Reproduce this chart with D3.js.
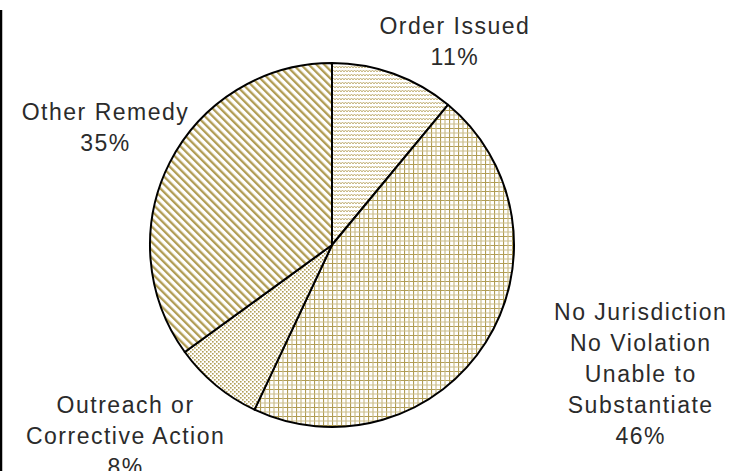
<!DOCTYPE html>
<html>
<head>
<meta charset="utf-8">
<script src="https://cdn.jsdelivr.net/npm/d3@7"></script>
<style>
  html, body { margin: 0; padding: 0; background: #fff; }
  svg { display: block; }
  .label { font-family: 'Liberation Sans', Arial, sans-serif; font-size: 23px; fill: #2b2b2b; letter-spacing: 1.5px; }
</style>
</head>
<body>
<div id="chart"></div>
<script>
const categories = ['Order Issued', 'No Jurisdiction\nNo Violation\nUnable to\nSubstantiate', 'Outreach or\nCorrective Action', 'Other Remedy'];
const values = [11, 46, 8, 35];
const percentLabels = ['11%', '46%', '8%', '35%'];
const patternIds = ['zigzag', 'grid', 'dots', 'stripes'];

const WIDTH = 729;
const HEIGHT = 471;
const CX = 332;
const CY = 245;
const RADIUS = 182;
const INK = '#b19d55';
const LINE = 31;

// offset from the outer-arc anchor to the centre of each label block
const labelNudge = [
  [52, -7],
  [132, 17],
  [-73, 30],
  [-40, -23],
];

const svg = d3.select('#chart').append('svg').attr('width', WIDTH).attr('height', HEIGHT);
const defs = svg.append('defs');

const zig = defs.append('pattern').attr('id', 'zigzag').attr('patternUnits', 'userSpaceOnUse').attr('width', 6).attr('height', 4);
zig.append('rect').attr('width', 6).attr('height', 4).attr('fill', '#fff');
zig.append('path').attr('d', 'M0,3 L1.5,1 L3,3 L4.5,1 L6,3').attr('fill', 'none').attr('stroke', '#c4b37a').attr('stroke-width', 1);

const grid = defs.append('pattern').attr('id', 'grid').attr('patternUnits', 'userSpaceOnUse').attr('width', 9).attr('height', 9);
grid.append('rect').attr('width', 9).attr('height', 9).attr('fill', '#fff');
grid.append('path').attr('d', 'M0.5,0 V9 M0,0.5 H9').attr('stroke', INK).attr('stroke-width', 1.2);
grid.append('path').attr('d', 'M5,0 V9 M0,5 H9').attr('stroke', '#cbbd8a').attr('stroke-width', 1.2);

const dots = defs.append('pattern').attr('id', 'dots').attr('patternUnits', 'userSpaceOnUse').attr('width', 4).attr('height', 4);
dots.append('rect').attr('width', 4).attr('height', 4).attr('fill', '#fff');
dots.append('rect').attr('x', 0).attr('y', 0).attr('width', 1.6).attr('height', 1.6).attr('fill', INK);
dots.append('rect').attr('x', 2).attr('y', 2).attr('width', 1.6).attr('height', 1.6).attr('fill', INK);

const stripes = defs.append('pattern').attr('id', 'stripes').attr('patternUnits', 'userSpaceOnUse')
  .attr('width', 5.5).attr('height', 5.5).attr('patternTransform', 'rotate(-45)');
stripes.append('rect').attr('width', 5.5).attr('height', 5.5).attr('fill', '#fff');
stripes.append('rect').attr('x', 0).attr('y', 0).attr('width', 2.3).attr('height', 5.5).attr('fill', INK);

// left frame line
svg.append('line').attr('x1', 1).attr('x2', 1).attr('y1', 10).attr('y2', HEIGHT).attr('stroke', '#000').attr('stroke-width', 2.5);

const pie = d3.pie().sort(null).value((d) => d);
const arcs = pie(values);
const arc = d3.arc().innerRadius(0).outerRadius(RADIUS);
const outerArc = d3.arc().innerRadius(RADIUS * 1.15).outerRadius(RADIUS * 1.15);

const g = svg.append('g').attr('transform', `translate(${CX},${CY})`);

g.selectAll('path.slice')
  .data(arcs)
  .join('path')
  .attr('class', 'slice')
  .attr('d', arc)
  .attr('fill', (d, i) => `url(#${patternIds[i]})`)
  .attr('stroke', '#000')
  .attr('stroke-width', 2)
  .attr('stroke-linejoin', 'round');

const labels = g.selectAll('text.label')
  .data(arcs)
  .join('text')
  .attr('class', 'label')
  .attr('text-anchor', 'middle')
  .attr('transform', (d, i) => {
    const [x, y] = outerArc.centroid(d);
    const count = categories[i].split('\n').length + 1;
    const top = y + labelNudge[i][1] - (count - 1) * LINE / 2;
    return `translate(${x + labelNudge[i][0]},${top})`;
  });

labels.each(function (d, i) {
  const t = d3.select(this);
  const lines = categories[i].split('\n').concat(percentLabels[i]);
  lines.forEach((s, k) => {
    t.append('tspan').attr('x', 0).attr('y', k * LINE).attr('dy', '0.35em').text(s);
  });
});
</script>
</body>
</html>
